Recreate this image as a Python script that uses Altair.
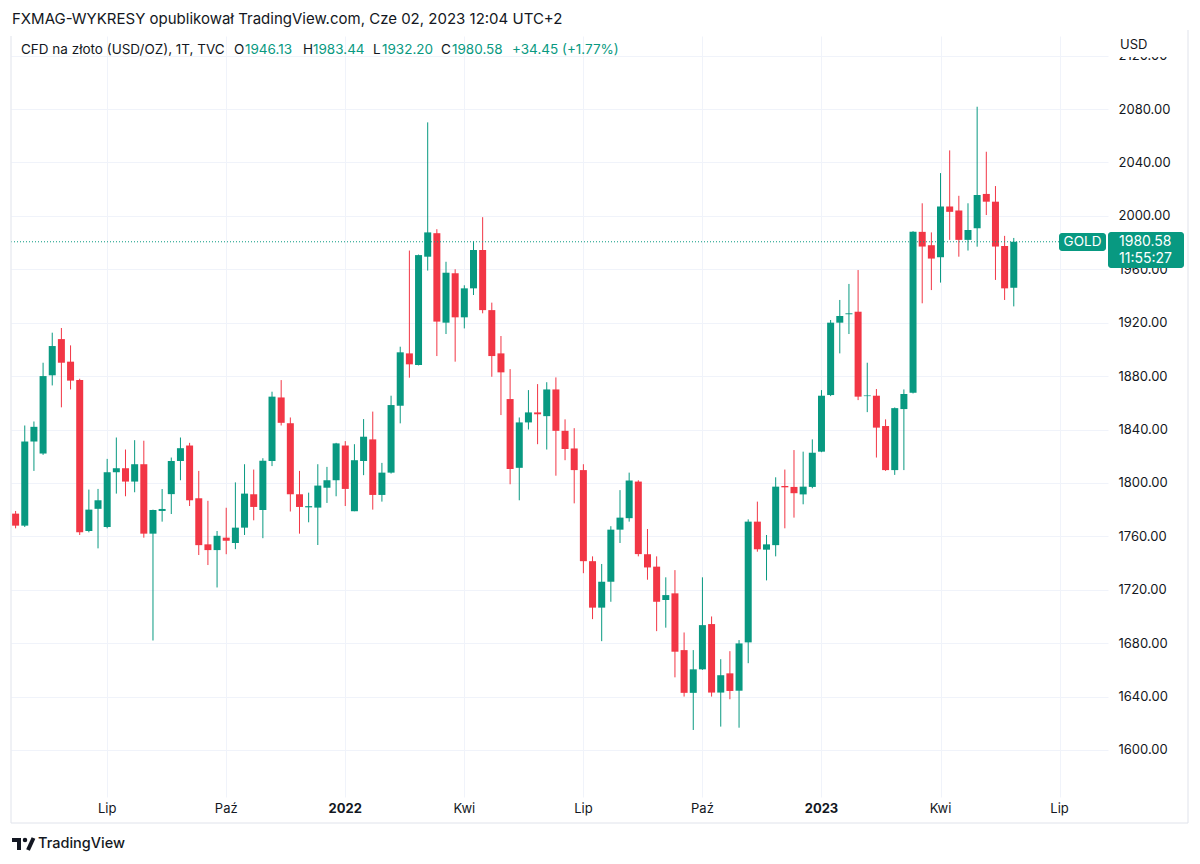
import altair as alt
import pandas as pd
import numpy as np

# ---------------- data (weekly candles) ----------------
opens = [1777, 1768, 1831, 1822, 1880.6, 1907.7, 1890.8, 1877, 1764, 1780.6,
         1767, 1808, 1811, 1801, 1814, 1762, 1779, 1791.6, 1816.4, 1828,
         1788.5, 1754, 1749.7, 1759, 1755, 1766.5, 1791.5, 1779.7, 1816.4, 1864,
         1844.7, 1791.5, 1781.7, 1781.5, 1796.4, 1802, 1828, 1778.8, 1816.4, 1832.6,
         1791, 1807.7, 1857.8, 1897, 1888.3, 1969.4, 1987, 1920, 1957, 1924,
         1945.7, 1974.4, 1929.4, 1897, 1862.8, 1811.3, 1845.3, 1852.8, 1850, 1870,
         1839, 1825.8, 1809.6, 1741.4, 1706.6, 1726, 1765, 1773.6, 1801, 1746.6,
         1737.3, 1712.3, 1717.3, 1674.8, 1642.8, 1660.4, 1694.3, 1643, 1657.4, 1644.4,
         1680.6, 1771, 1750, 1753.4, 1797.7, 1797, 1791.4, 1797, 1823.4, 1865.8,
         1920, 1926.3, 1928.2, 1865, 1865.3, 1842.6, 1809.6, 1855.3, 1867.6, 1988,
         1978, 1969, 2007, 2004, 1982, 1990.7, 2016.4, 2010.6, 1977.4, 1946.13]
highs = [1779, 1843, 1846, 1890, 1912.5, 1916, 1903, 1878, 1795, 1795.5,
         1818, 1834, 1825, 1832, 1831.6, 1780, 1795.4, 1819, 1834, 1830,
         1809, 1786.6, 1764, 1781.4, 1800.4, 1814, 1810, 1818.5, 1868.3, 1877,
         1849, 1809, 1792.7, 1814, 1812, 1830, 1831.3, 1829, 1847.8, 1853.4,
         1815, 1865.3, 1902, 1974, 1971, 2070, 1990, 1965.6, 1960, 1948,
         1981, 1999, 1935, 1910, 1885.2, 1849, 1869.5, 1874, 1875.4, 1879,
         1847.6, 1841, 1814, 1745, 1739.3, 1767.6, 1794.6, 1807.7, 1802, 1765.5,
         1745, 1729.3, 1734.7, 1688, 1674.8, 1729.3, 1700, 1668, 1674, 1682.3,
         1772.7, 1786, 1761, 1804.2, 1810, 1824.6, 1823.4, 1832.6, 1869.5, 1922,
         1937, 1949, 1959.4, 1890, 1870.3, 1847.6, 1856.5, 1870, 1988.5, 2009.4,
         1987.6, 2032, 2049, 2015, 2009.4, 2081.7, 2048, 2022.3, 1985, 1983.44]
lows = [1766, 1767, 1809, 1821, 1873, 1856.6, 1870, 1761, 1763, 1751,
        1766, 1792, 1790, 1793, 1759, 1682, 1771, 1776.7, 1802, 1782.7,
        1746, 1738.5, 1721.7, 1746.6, 1750.4, 1761, 1772, 1758.6, 1812.6, 1843,
        1778.6, 1762, 1770.5, 1753.5, 1785, 1790, 1782.7, 1778.8, 1805.8, 1780,
        1786, 1807, 1844.6, 1878.8, 1888, 1959, 1895, 1911.5, 1890.8, 1915.7,
        1940.7, 1927, 1879.5, 1850.8, 1799, 1787, 1840, 1829, 1825, 1805.4,
        1817, 1784.7, 1732.4, 1698, 1681.5, 1711, 1755, 1771, 1745, 1727.5,
        1689, 1691.6, 1654.4, 1640, 1615, 1660, 1640, 1617.5, 1638, 1616.7,
        1665, 1748.5, 1727, 1745, 1766, 1774, 1784, 1796, 1823, 1865,
        1897, 1911.5, 1862, 1853, 1819, 1809, 1806, 1809.6, 1867, 1934.5,
        1944.4, 1950, 1982, 1969.4, 1974, 1976.9, 2000.6, 1952, 1937, 1932.20]
closes = [1768, 1831, 1842, 1880, 1902.5, 1890, 1876.6, 1763, 1780, 1787,
          1808, 1811, 1801, 1814, 1762, 1779.7, 1780.5, 1816.4, 1826, 1787,
          1753.4, 1749.7, 1760.4, 1756.7, 1766.5, 1792, 1782, 1816.6, 1864.6, 1845,
          1791.5, 1782, 1782.6, 1798, 1802, 1829.6, 1795.5, 1817, 1834.6, 1791,
          1807.7, 1858.3, 1897.8, 1888.8, 1970.6, 1987.6, 1920.8, 1957.4, 1924, 1945.7,
          1974.4, 1929.4, 1895, 1882.8, 1810.4, 1845.3, 1852.8, 1851.4, 1870, 1839,
          1825.4, 1809.6, 1741.4, 1706.6, 1726, 1765, 1774, 1801.8, 1746.7, 1736.7,
          1711, 1716, 1673.6, 1642.8, 1660.4, 1693.5, 1643, 1656, 1644.2, 1679.8,
          1771, 1750.3, 1754, 1797.2, 1796.7, 1792.3, 1797.2, 1822.6, 1865.3, 1920,
          1925, 1927, 1864.6, 1865.5, 1841.4, 1809.6, 1856, 1866.6, 1988, 1977,
          1968, 2007, 2003, 1982, 1989.4, 2015.6, 2010.6, 1977, 1945.7, 1980.58]

first_week = "2021-04-26"
tick_dates = ["2021-07-05", "2021-10-04", "2022-01-03", "2022-04-04", "2022-07-04",
              "2022-10-03", "2023-01-02", "2023-04-03", "2023-07-03"]
tick_labels = ["Lip", "Paź", "2022", "Kwi", "Lip", "Paź", "2023", "Kwi", "Lip"]
tick_bold = [False, False, True, False, False, False, True, False, False]
price_ticks = [1600, 1640, 1680, 1720, 1760, 1800, 1840, 1880, 1920, 1960,
               2000, 2040, 2080, 2120]
last_close = 1980.58

# ---------------- styling ----------------
GREEN = "#089981"
RED = "#F23645"
DARK = "#131722"
GRID = "#f0f3fa"
FRAME = "#e0e3eb"
FONT = "Inter"

ref = pd.Timestamp("2021-07-05")
dates = pd.date_range(first_week, periods=len(opens), freq="7D")
df = pd.DataFrame({
    "d": [(d - ref).days for d in dates],
    "open": opens, "high": highs, "low": lows, "close": closes,
})
df["dir"] = np.where(df["close"] >= df["open"], "up", "down")

ticks_df = pd.DataFrame({
    "d": [(pd.Timestamp(t) - ref).days for t in tick_dates],
    "label": tick_labels,
    "bold": tick_bold,
})

W, H = 1097, 761
xscale = alt.Scale(domain=[-69.7, 761.2], nice=False, zero=False)
yscale = alt.Scale(domain=[1564.8, 2134.67], nice=False, zero=False)
xaxis = alt.Axis(values=ticks_df["d"].tolist(), grid=True, gridColor=GRID,
                 labels=False, ticks=False, domain=False, title=None, zindex=0)
yaxis = alt.Axis(orient="right", values=price_ticks, format=".2f", title=None,
                 domain=False, ticks=False, labelPadding=10, labelFont=FONT,
                 labelFontSize=13, labelColor=DARK, grid=True, gridColor=GRID,
                 labelOverlap=False, zindex=0)
color = alt.Color("dir:N", scale=alt.Scale(domain=["up", "down"], range=[GREEN, RED]),
                  legend=None)


def X(field):
    return alt.X(field, scale=xscale, axis=xaxis, title=None)


def Y(field):
    return alt.Y(field, scale=yscale, axis=yaxis, title=None)


base = alt.Chart(df)

wicks = base.mark_rule(strokeWidth=1, clip=True).encode(
    x=X("d:Q"), y=Y("low:Q"), y2="high:Q", color=color)

bodies = base.mark_bar(size=7, clip=True).encode(
    x=X("d:Q"), y=Y("open:Q"), y2="close:Q", color=color)

last_df = pd.DataFrame({"price": [last_close]})
last_line = alt.Chart(last_df).mark_rule(color=GREEN, strokeWidth=1, strokeDash=[1, 2]).encode(
    y=Y("price:Q"), x=alt.value(0), x2=alt.value(1048))

time_base = alt.Chart(ticks_df).encode(x=X("d:Q"), y=alt.value(773), text="label:N")
time_norm = time_base.transform_filter("!datum.bold").mark_text(
    font=FONT, fontSize=13, color=DARK, baseline="middle", align="center")
time_bold = time_base.transform_filter("datum.bold").mark_text(
    font=FONT, fontSize=13, color=DARK, baseline="middle", align="center", fontWeight="bold")


def txt(t, x, y, size=13, col=DARK, weight="normal", align="left"):
    return alt.Chart(pd.DataFrame({"t": [t]})).mark_text(
        font=FONT, fontSize=size, color=col, fontWeight=weight, align=align,
        baseline="middle"
    ).encode(x=alt.value(x), y=alt.value(y), text="t:N")


def box(x1, x2, y1, y2, col, radius=0):
    return alt.Chart(pd.DataFrame({"a": [0]})).mark_rect(color=col, cornerRadius=radius).encode(
        x=alt.value(x1), x2=alt.value(x2), y=alt.value(y1), y2=alt.value(y2))


def rule(x1, x2, y1, y2, col=FRAME, w=1):
    return alt.Chart(pd.DataFrame({"a": [0]})).mark_rule(color=col, strokeWidth=w).encode(
        x=alt.value(x1), x2=alt.value(x2), y=alt.value(y1), y2=alt.value(y2))


layers = [wicks, bodies, last_line, time_norm, time_bold]

# mask over the clipped top price label + currency
layers.append(box(1101, 1175, 0, 21, "white"))
layers.append(txt("USD", 1109, 9))

# header
layers.append(txt("FXMAG-WYKRESY opublikował TradingView.com, Cze 02, 2023 12:04 UTC+2", 1, -17, size=15))
layers.append(txt("CFD na złoto (USD/OZ), 1T, TVC", 10, 14, size=13.5))
for lab, lx, val, vx in [("O", 223, "1946.13", 234), ("H", 292, "1983.44", 302),
                         ("L", 362, "1932.20", 371), ("C", 430, "1980.58", 441)]:
    layers.append(txt(lab, lx, 14, size=13.5))
    layers.append(txt(val, vx, 14, size=13.5, col=GREEN))
layers.append(txt("+34.45 (+1.77%)", 501, 14, size=13.5, col=GREEN))

# last price tags
layers.append(box(1048, 1095, 197, 215, GREEN, 3))
layers.append(txt("GOLD", 1071.5, 206, size=13.5, col="white", align="center"))
layers.append(box(1097, 1173, 196, 232, GREEN, 3))
layers.append(txt("1980.58", 1108, 206, size=14, col="white"))
layers.append(txt("11:55:27", 1108, 223, size=14, col="white"))

# frame lines
layers.append(rule(0, 0, 0, 787))
layers.append(rule(1177, 1177, -6, 787))
layers.append(rule(0, 1177, 787, 787))

# TradingView logo
layers.append(box(1, 10, 802, 806, DARK))
layers.append(box(6, 10, 802, 814, DARK))
layers.append(alt.Chart(pd.DataFrame({"a": [0]})).mark_point(
    filled=True, color=DARK, size=20, opacity=1).encode(x=alt.value(14), y=alt.value(804)))
layers.append(rule(22.5, 17, 802, 814, DARK, 4))
layers.append(txt("TradingView", 27, 808, size=14.5, weight=500))

chart = alt.layer(*layers).properties(
    width=W, height=H,
    autosize=alt.AutoSizeParams(type="none"),
    padding={"left": 3, "top": 28, "right": 84, "bottom": 59},
    background="white",
).configure_view(stroke=None)

chart.save("out.html", embed_options={"renderer": "svg", "actions": False})
